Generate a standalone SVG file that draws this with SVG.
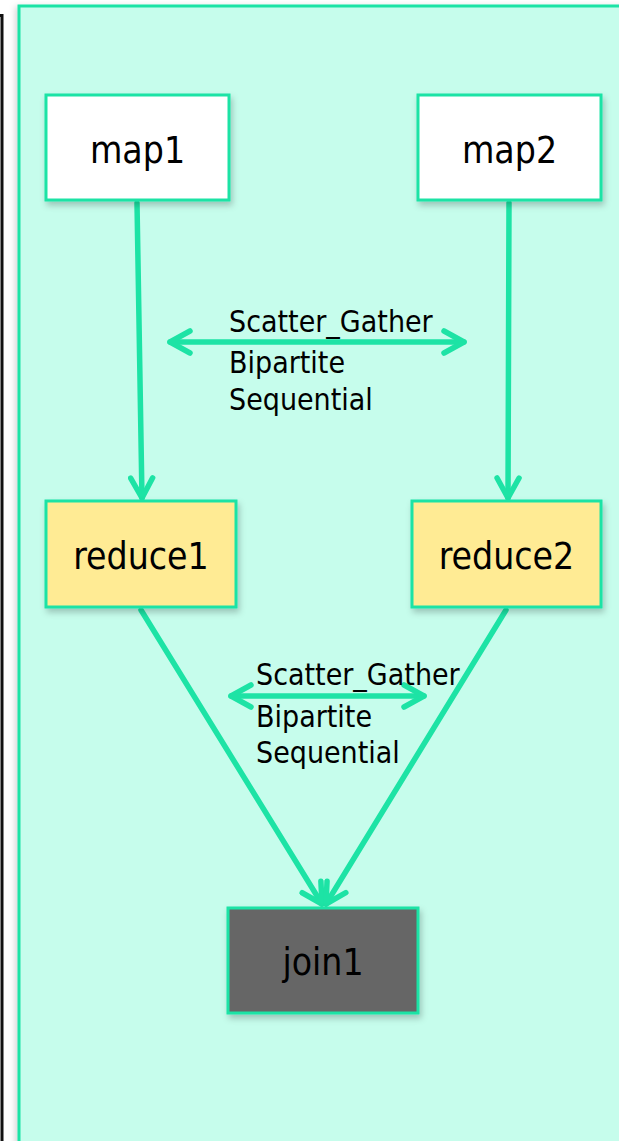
<svg xmlns="http://www.w3.org/2000/svg" width="619" height="1141" viewBox="0 0 619 1141">
  <defs>
    <filter id="shadow" x="-20%" y="-20%" width="140%" height="140%">
      <feDropShadow dx="2" dy="4" stdDeviation="3" flood-color="#000" flood-opacity="0.22"/>
    </filter>
    <filter id="panelShadow" x="-5%" y="-5%" width="110%" height="110%">
      <feDropShadow dx="-2" dy="2" stdDeviation="3" flood-color="#000" flood-opacity="0.18"/>
    </filter>
    <marker id="head" viewBox="0 0 28 28" refX="24" refY="14" markerWidth="28" markerHeight="28" markerUnits="userSpaceOnUse" orient="auto-start-reverse">
      <path d="M4 3 L24 14 L4 25" fill="none" stroke="#1de3a5" stroke-width="5.5" stroke-linecap="round" stroke-linejoin="round"/>
    </marker>
    <style>
      .node { stroke: #1de3a5; stroke-width: 3; filter: url(#shadow); }
      .plain { fill: #ffffff; }
      .reduce { fill: #ffeb94; }
      .dark { fill: #666666; }
      .label { font-family: "DejaVu Sans Condensed", "DejaVu Sans", Verdana, sans-serif; font-size: 37px; fill: #000; text-anchor: middle; }
      .edge { stroke: #1de3a5; stroke-width: 5.5; fill: none; stroke-linecap: round; }
      .elabel { font-family: "DejaVu Sans Condensed", "DejaVu Sans", Verdana, sans-serif; font-size: 30px; fill: #000; }
    </style>
  </defs>

  <!-- frame edge on the left -->
  <path d="M0 15.5 H2 V1141" fill="none" stroke="#111" stroke-width="3"/>

  <!-- container panel -->
  <rect x="19" y="6" width="610" height="1150" fill="#c6fdec" stroke="#1de3a5" stroke-width="3" filter="url(#panelShadow)"/>

  <!-- connectors -->
  <g id="connectors">
    <line class="edge" x1="137" y1="203" x2="142" y2="498" marker-end="url(#head)"/>
    <line class="edge" x1="509" y1="203" x2="508" y2="498" marker-end="url(#head)"/>
    <line class="edge" x1="170" y1="342" x2="464" y2="342" marker-start="url(#head)" marker-end="url(#head)"/>
    <line class="edge" x1="141" y1="610" x2="322" y2="904" marker-end="url(#head)"/>
    <line class="edge" x1="506" y1="610" x2="326" y2="904" marker-end="url(#head)"/>
    <line class="edge" x1="231" y1="696" x2="424" y2="696" marker-start="url(#head)" marker-end="url(#head)"/>
    <text class="elabel" x="229" y="332">Scatter_Gather</text>
    <text class="elabel" x="229" y="373">Bipartite</text>
    <text class="elabel" x="229" y="410">Sequential</text>
    <text class="elabel" x="256" y="685">Scatter_Gather</text>
    <text class="elabel" x="256" y="727">Bipartite</text>
    <text class="elabel" x="256" y="763">Sequential</text>
  </g>

  <g id="map1">
    <rect class="node plain" x="46" y="95" width="183" height="105"/>
    <text class="label" x="137.5" y="163">map1</text>
  </g>
  <g id="map2">
    <rect class="node plain" x="418" y="95" width="183" height="105"/>
    <text class="label" x="509.5" y="163">map2</text>
  </g>
  <g id="reduce1">
    <rect class="node reduce" x="46" y="501" width="190" height="106"/>
    <text class="label" x="141" y="569">reduce1</text>
  </g>
  <g id="reduce2">
    <rect class="node reduce" x="412" y="501" width="189" height="106"/>
    <text class="label" x="506.5" y="569">reduce2</text>
  </g>
  <g id="join1">
    <rect class="node dark" x="228" y="908" width="190" height="105"/>
    <text class="label" x="323" y="975">join1</text>
  </g>
</svg>
